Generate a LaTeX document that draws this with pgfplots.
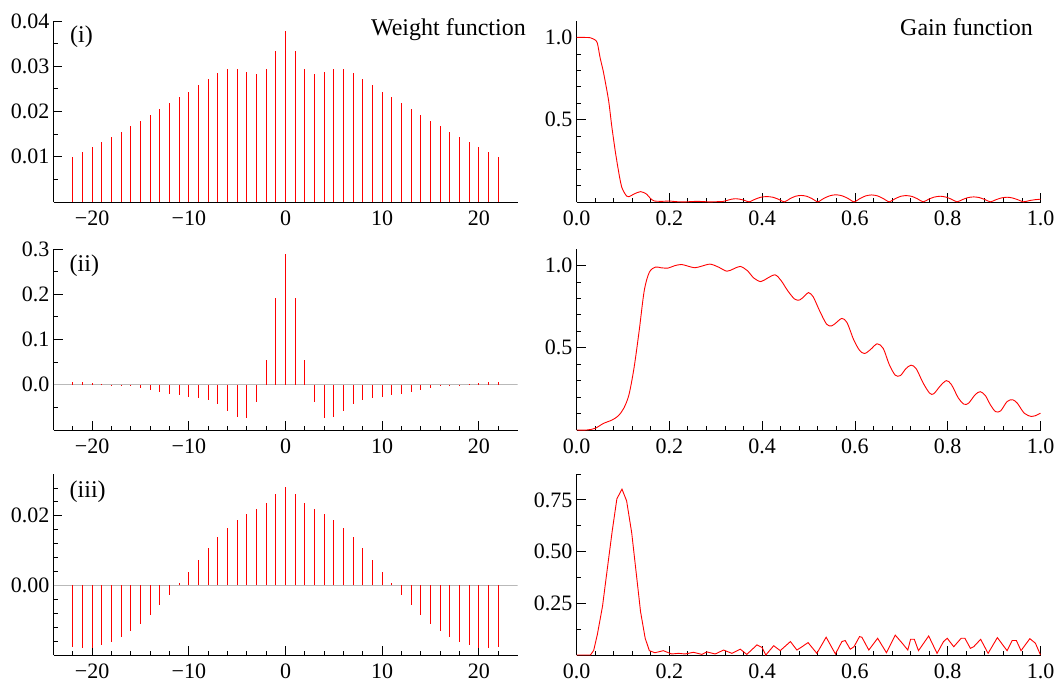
\documentclass[border=0pt]{standalone}
\usepackage{fontspec}
\setmainfont{Liberation Serif}
\usepackage{pgfplots}
\pgfplotsset{compat=1.18}

\pgfplotsset{
  base/.style={
    width=464pt, height=181pt, scale only axis,
    axis x line*=bottom, axis y line*=left,
    axis line style={black, line width=0.9pt},
    tick align=inside,
    major tick length=9pt, minor tick length=4.5pt,
    tick style={black, line width=0.8pt},
    tick label style={font=\fontsize{22}{26}\selectfont},
    xticklabel style={inner sep=0pt, anchor=north, yshift=-9pt},
    yticklabel style={inner sep=0pt, anchor=east, xshift=-4pt},
    scaled y ticks=false, scaled x ticks=false,
  },
  leftp/.style={base,
    xmin=-24, xmax=24,
    xtick={-20,-10,0,10,20}, xticklabels={−20,−10,0,10,20},
    minor xtick={-22,-18,-16,-14,-12,-8,-6,-4,-2,2,4,6,8,12,14,16,18,22},
  },
  rightp/.style={base,
    xmin=0, xmax=1,
    xtick={0,0.2,0.4,0.6,0.8,1}, xticklabels={0.0,0.2,0.4,0.6,0.8,1.0},
    minor xtick={0.04,0.08,0.12,0.16,0.24,0.28,0.32,0.36,0.44,0.48,0.52,0.56,0.64,0.68,0.72,0.76,0.84,0.88,0.92,0.96},
  },
  stem/.style={ycomb, draw=red, color=red, line width=1.2pt, no markers},
  gain/.style={draw=red, line width=0.9pt, no markers},
}

\begin{document}
\begin{tikzpicture}
\useasboundingbox (0,0) rectangle (1059pt,-682pt);

% ---------- (i) weight ----------
\begin{axis}[leftp, at={(53.5pt,-202pt)}, anchor=south west,
  ymin=0, ymax=0.04,
  ytick={0.01,0.02,0.03,0.04}, yticklabels={0.01,0.02,0.03,0.04},
  minor ytick={0.005,0.015,0.025,0.035}]
\addplot[stem] coordinates {
(-22,0.0099)(-21,0.0110)(-20,0.0121)(-19,0.0132)(-18,0.0144)(-17,0.0155)(-16,0.0167)(-15,0.0180)(-14,0.0193)(-13,0.0206)(-12,0.0218)(-11,0.0231)(-10,0.0244)(-9,0.0258)(-8,0.0272)(-7,0.0284)(-6,0.0293)(-5,0.0293)(-4,0.0287)(-3,0.0283)(-2,0.0295)(-1,0.0333)(0,0.0379)
(1,0.0333)(2,0.0295)(3,0.0283)(4,0.0287)(5,0.0293)(6,0.0293)(7,0.0284)(8,0.0272)(9,0.0258)(10,0.0244)(11,0.0231)(12,0.0218)(13,0.0206)(14,0.0193)(15,0.0180)(16,0.0167)(17,0.0155)(18,0.0144)(19,0.0132)(20,0.0121)(21,0.0110)(22,0.0099)};
\end{axis}

% ---------- (i) gain ----------
\begin{axis}[rightp, at={(576.5pt,-202pt)}, anchor=south west,
  ymin=0, ymax=1.1,
  ytick={0.5,1}, yticklabels={0.5,1.0},
  minor ytick={0.1,0.2,0.3,0.4,0.6,0.7,0.8,0.9}]
\addplot[gain, smooth, tension=0.4] coordinates {
(0,1.0)(0.02,1.0)(0.03,0.998)(0.04,0.985)(0.045,0.965)(0.051,0.875)(0.058,0.79)(0.069,0.62)(0.076,0.46)(0.084,0.30)(0.0925,0.156)(0.0975,0.09)(0.102,0.062)(0.108,0.036)(0.113,0.032)(0.125,0.05)(0.138,0.063)(0.15,0.05)(0.16,0.02)(0.168,0.006)(0.185,0.004)(0.2,0.006)(0.215,0.002)(0.235,0.001)(0.26,0.004)(0.285,0.001)(0.305,0.002)
(0.315,0.003)(0.325,0.01)(0.334,0.017)(0.343,0.02)(0.352,0.017)(0.362,0.01)(0.372,0.001)
(0.385,0.017)(0.397,0.029)(0.41,0.033)(0.423,0.029)(0.435,0.017)(0.448,0.001)
(0.46,0.02)(0.472,0.035)(0.484,0.04)(0.496,0.035)(0.508,0.02)(0.52,0.001)
(0.533,0.022)(0.546,0.038)(0.559,0.044)(0.572,0.038)(0.585,0.022)(0.598,0.001)
(0.611,0.021)(0.623,0.037)(0.636,0.043)(0.649,0.037)(0.661,0.021)(0.674,0.001)
(0.686,0.019)(0.698,0.034)(0.71,0.039)(0.723,0.034)(0.735,0.019)(0.747,0.001)
(0.759,0.017)(0.771,0.03)(0.784,0.035)(0.796,0.03)(0.808,0.017)(0.82,0.001)
(0.832,0.015)(0.844,0.027)(0.856,0.031)(0.868,0.027)(0.88,0.015)(0.892,0.001)
(0.904,0.014)(0.916,0.025)(0.928,0.029)(0.939,0.025)(0.951,0.014)(0.963,0.001)
(0.975,0.008)(0.988,0.014)(1.0,0.017)};
\end{axis}

% ---------- (ii) weight ----------
\begin{axis}[leftp, at={(53.5pt,-430pt)}, anchor=south west,
  ymin=-0.1, ymax=0.3,
  ytick={0,0.1,0.2,0.3}, yticklabels={0.0,0.1,0.2,0.3},
  minor ytick={-0.05,0.05,0.15,0.25}]
\addplot[gray!55, line width=0.9pt, no markers, forget plot] coordinates {(-24,0)(24,0)};
\addplot[stem] coordinates {
(-22,0.0067)(-21,0.006)(-20,0.0044)(-19,0.002)(-18,0.0005)(-17,-0.001)(-16,-0.0037)(-15,-0.0074)(-14,-0.0119)(-13,-0.0156)(-12,-0.0207)(-11,-0.0237)(-10,-0.0267)(-9,-0.0296)(-8,-0.034)(-7,-0.043)(-6,-0.057)(-5,-0.072)(-4,-0.074)(-3,-0.0385)(-2,0.0548)(-1,0.191)(0,0.289)
(1,0.191)(2,0.0548)(3,-0.0385)(4,-0.074)(5,-0.072)(6,-0.057)(7,-0.043)(8,-0.034)(9,-0.0296)(10,-0.0267)(11,-0.0237)(12,-0.0207)(13,-0.0156)(14,-0.0119)(15,-0.0074)(16,-0.0037)(17,-0.001)(18,0.0005)(19,0.002)(20,0.0044)(21,0.006)(22,0.0067)};
\end{axis}

% ---------- (ii) gain ----------
\begin{axis}[rightp, at={(576.5pt,-430pt)}, anchor=south west,
  ymin=0, ymax=1.1,
  ytick={0.5,1}, yticklabels={0.5,1.0},
  minor ytick={0.1,0.2,0.3,0.4,0.6,0.7,0.8,0.9}]
\addplot[gain, smooth, tension=0.5] coordinates {
(0,0)(0.022,0)(0.04,0.01)(0.058,0.04)(0.076,0.06)(0.09,0.086)(0.102,0.133)(0.113,0.214)(0.124,0.378)(0.135,0.602)(0.146,0.847)(0.157,0.959)(0.17,0.99)(0.182,0.986)(0.197,0.984)(0.211,0.998)(0.226,1.006)(0.24,0.996)(0.255,0.986)(0.27,0.996)(0.288,1.008)(0.306,0.99)(0.324,0.965)(0.339,0.98)(0.353,0.994)(0.368,0.969)(0.382,0.924)(0.397,0.902)(0.411,0.922)(0.428,0.943)(0.441,0.908)(0.455,0.847)(0.47,0.796)(0.481,0.79)(0.492,0.816)(0.5,0.835)(0.51,0.81)(0.524,0.724)(0.539,0.643)(0.55,0.633)(0.56,0.653)(0.572,0.678)(0.583,0.653)(0.597,0.551)(0.61,0.484)(0.621,0.465)(0.634,0.49)(0.648,0.524)(0.661,0.496)(0.674,0.398)(0.687,0.333)(0.698,0.331)(0.71,0.373)(0.721,0.394)(0.732,0.373)(0.747,0.286)(0.761,0.224)(0.77,0.22)(0.783,0.265)(0.797,0.3)(0.808,0.276)(0.823,0.194)(0.835,0.157)(0.845,0.163)(0.859,0.214)(0.87,0.233)(0.881,0.21)(0.892,0.153)(0.903,0.112)(0.914,0.116)(0.928,0.173)(0.94,0.184)(0.95,0.163)(0.965,0.102)(0.98,0.082)(0.988,0.086)(1.0,0.102)};
\end{axis}

% ---------- (iii) weight ----------
\begin{axis}[leftp, at={(53.5pt,-655pt)}, anchor=south west,
  ymin=-0.02, ymax=0.032,
  ytick={0,0.02}, yticklabels={0.00,0.02},
  minor ytick={-0.016,-0.012,-0.008,-0.004,0.004,0.008,0.012,0.016,0.024,0.028}]
\addplot[gray!55, line width=0.9pt, no markers, forget plot] coordinates {(-24,0)(24,0)};
\addplot[stem] coordinates {
(-22,-0.01779)(-21,-0.01798)(-20,-0.01788)(-19,-0.01721)(-18,-0.01635)(-17,-0.0149)(-16,-0.01317)(-15,-0.01096)(-14,-0.00856)(-13,-0.00567)(-12,-0.0027)(-11,0.0006)(-10,0.00385)(-9,0.0073)(-8,0.01067)(-7,0.01385)(-6,0.01654)(-5,0.01875)(-4,0.02048)(-3,0.02192)(-2,0.02375)(-1,0.02625)(0,0.02837)
(1,0.02625)(2,0.02375)(3,0.02192)(4,0.02048)(5,0.01875)(6,0.01654)(7,0.01385)(8,0.01067)(9,0.0073)(10,0.00385)(11,0.0006)(12,-0.0027)(13,-0.00567)(14,-0.00856)(15,-0.01096)(16,-0.01317)(17,-0.0149)(18,-0.01635)(19,-0.01721)(20,-0.01788)(21,-0.01798)(22,-0.01779)};
\end{axis}

% ---------- (iii) gain ----------
\begin{axis}[rightp, at={(576.5pt,-655pt)}, anchor=south west,
  ymin=0, ymax=0.875,
  ytick={0.25,0.5,0.75}, yticklabels={0.25,0.50,0.75},
  minor ytick={0.125,0.375,0.625,0.875}]
\addplot[gain] coordinates {
(0,0)(0.03,0)(0.037,0.022)(0.045,0.1)(0.056,0.235)(0.066,0.41)(0.077,0.6)(0.087,0.755)(0.098,0.802)(0.108,0.745)(0.119,0.59)(0.129,0.39)(0.138,0.21)(0.148,0.081)(0.157,0.021)(0.169,0.011)(0.187,0.021)(0.205,0.005)(0.22,0.008)(0.234,0.005)(0.252,0.013)(0.27,0.003)(0.281,0.015)(0.299,0.005)(0.317,0.024)(0.335,0.008)(0.353,0.028)(0.367,0.003)(0.389,0.049)(0.4,0.036)(0.408,0)(0.425,0.045)(0.439,0.021)(0.461,0.065)(0.475,0.024)(0.486,0.04)(0.499,0.06)(0.518,0.008)(0.538,0.086)(0.558,0.005)(0.572,0.065)(0.579,0.07)(0.59,0.028)(0.598,0.04)(0.61,0.089)(0.615,0.086)(0.63,0.024)(0.649,0.081)(0.668,0.011)(0.687,0.096)(0.702,0.057)(0.714,0.024)(0.72,0.076)(0.728,0.076)(0.737,0.021)(0.759,0.092)(0.777,0.008)(0.791,0.065)(0.799,0.081)(0.813,0.04)(0.829,0.081)(0.837,0.081)(0.849,0.032)(0.856,0.04)(0.871,0.076)(0.887,0.008)(0.907,0.084)(0.928,0.021)(0.939,0.07)(0.948,0.07)(0.958,0.021)(0.977,0.079)(0.989,0.057)(1.0,0)};
\end{axis}

% ---------- texts ----------
\begin{scope}[every node/.style={inner sep=0pt, font=\fontsize{24}{28}\selectfont}]
\node[anchor=base east] at (526pt,-36pt) {Weight function};
\node[anchor=base east] at (1033pt,-36pt) {Gain function};
\node[anchor=base west] at (70pt,-43pt) {(i)};
\node[anchor=base west] at (69.5pt,-271pt) {(ii)};
\node[anchor=base west] at (69.5pt,-497pt) {(iii)};
\end{scope}
\end{tikzpicture}
\end{document}
